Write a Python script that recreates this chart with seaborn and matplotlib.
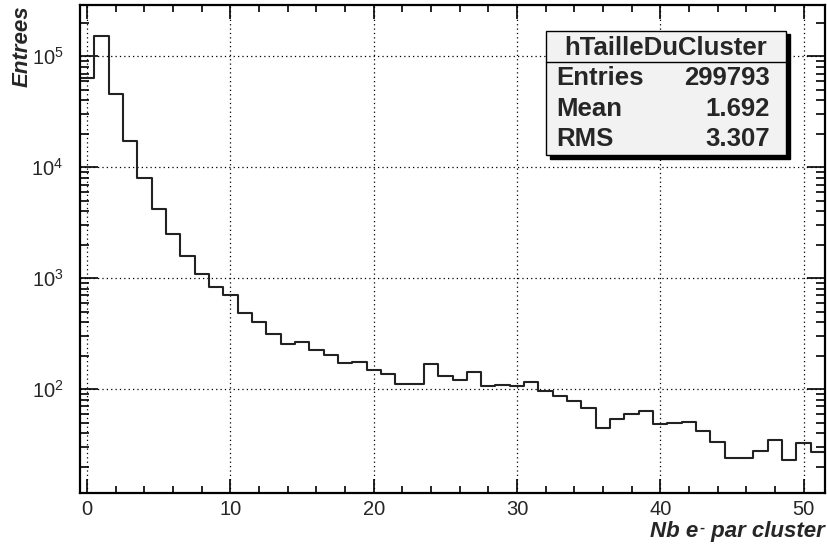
import numpy as np
import pandas as pd
import matplotlib
matplotlib.use("Agg")
import matplotlib.pyplot as plt
from matplotlib.patches import Rectangle
from matplotlib.lines import Line2D
from matplotlib.ticker import MultipleLocator, LogLocator, LogFormatterSciNotation, NullFormatter
import seaborn as sns

# ---- data ----
bin_centers = list(range(0, 52))
counts = [64100, 152000, 45500, 17300, 8020, 4190, 2500, 1580, 1095, 840,
          712, 484, 404, 317, 256, 265, 224, 204, 171, 177,
          148, 138, 112, 112, 170, 133, 121, 142, 106, 109,
          106, 117, 97, 86.5, 79, 68, 44.8, 54.4, 59.6, 63.8,
          48.4, 49.4, 51, 41.9, 33.7, 23.9, 23.9, 28, 35.2, 22.9,
          33, 27]
x_ticks = [0, 10, 20, 30, 40, 50]
stats_title = "hTailleDuCluster"
stats_names = ["Entries", "Mean", "RMS"]
stats_values = ["299793", "1.692", "3.307"]
x_label_parts = ("Nb e", "-", " par cluster")
y_label = "Entrees"

sns.set_style("ticks")
plt.rcParams["font.family"] = ["Liberation Sans", "DejaVu Sans"]

W, H = 827, 549
fig = plt.figure(figsize=(W / 100, H / 100), dpi=100)
fig.patch.set_facecolor("white")

def fx(x):
    return x / W

def fy(y):
    return 1 - y / H

ax_l, ax_r, ax_t, ax_b = 80, 825, 5, 493.3
ax = fig.add_axes([fx(ax_l), fy(ax_b), (ax_r - ax_l) / W, (ax_b - ax_t) / H])
ax.set_facecolor("white")

df = pd.DataFrame({"x": bin_centers, "w": counts})
sns.histplot(data=df, x="x", weights="w", bins=len(bin_centers),
             binrange=(bin_centers[0] - 0.5, bin_centers[-1] + 0.5),
             element="step", fill=False, color="#222222", linewidth=1.5, ax=ax)

ax.set_yscale("log")
ax.set_xlim(-0.5, 51.5)
ax.set_ylim(11.56, 2.9e5)

ax.set_xticks(x_ticks)
ax.xaxis.set_minor_locator(MultipleLocator(2))
ax.yaxis.set_major_locator(LogLocator(base=10))
ax.yaxis.set_minor_locator(LogLocator(base=10, subs=np.arange(2, 10)))
ax.yaxis.set_major_formatter(LogFormatterSciNotation())
ax.yaxis.set_minor_formatter(NullFormatter())

ax.tick_params(axis="both", which="both", direction="in", top=True, right=True,
               color="black", width=1.2)
ax.tick_params(axis="x", which="major", length=10, labelsize=14.5, pad=5)
ax.tick_params(axis="x", which="minor", length=5)
ax.tick_params(axis="y", which="major", length=13, labelsize=14.5, pad=12)
ax.tick_params(axis="y", which="minor", length=6.5)

for s in ax.spines.values():
    s.set_linewidth(1.6)
    s.set_color("black")
    s.set_visible(True)

ax.grid(True, which="major", color="black", linestyle=(0, (1, 2.5)), linewidth=0.9)
ax.set_xlabel("")
ax.set_ylabel("")

# axis titles (x title with a short superscript dash, right aligned)
lbl_kw = dict(fontsize=16, fontweight="bold", fontstyle="italic")
t3 = fig.text(fx(825), fy(537), x_label_parts[2], ha="right", va="baseline", **lbl_kw)
fig.canvas.draw()
r = fig.canvas.get_renderer()
bb3 = t3.get_window_extent(r)
sup_x = bb3.x0 - 1
t2 = fig.text(sup_x / W, fy(545) + 0 if False else (bb3.y0 + 10) / H, x_label_parts[1],
              ha="right", va="baseline", fontsize=11, fontweight="bold", fontstyle="italic")
bb2 = t2.get_window_extent(r)
fig.text((bb2.x0 - 0.5) / W, fy(537), x_label_parts[0], ha="right", va="baseline", **lbl_kw)

fig.text(fx(22), fy(5), y_label, ha="center", va="top", rotation=90, **lbl_kw)

# stats box
bl, br, bt, bb = 546, 786, 31, 155
sh = 3.5
fig.patches.append(Rectangle((fx(bl + sh), fy(bb + sh)), (br - bl) / W, (bb - bt) / H,
                             transform=fig.transFigure, facecolor="black",
                             edgecolor="black", zorder=10))
fig.patches.append(Rectangle((fx(bl), fy(bb)), (br - bl) / W, (bb - bt) / H,
                             transform=fig.transFigure, facecolor="#f2f2f2",
                             edgecolor="black", linewidth=1.0, zorder=11))
fig.lines.append(Line2D([fx(bl), fx(br)], [fy(62), fy(62)], transform=fig.transFigure,
                        color="black", linewidth=1.0, zorder=12))
fig.text(fx((bl + br) / 2), fy(48), stats_title, ha="center", va="center",
         fontsize=18.5, fontweight="bold", zorder=13)
row_y = [78, 108.5, 139]
for name, val, yy in zip(stats_names, stats_values, row_y):
    fig.text(fx(556), fy(yy), name, ha="left", va="center", fontsize=18.5,
             fontweight="bold", zorder=13)
    fig.text(fx(770), fy(yy), val, ha="right", va="center", fontsize=18.5,
             fontweight="bold", zorder=13)

fig.savefig("out.png", dpi=100)
